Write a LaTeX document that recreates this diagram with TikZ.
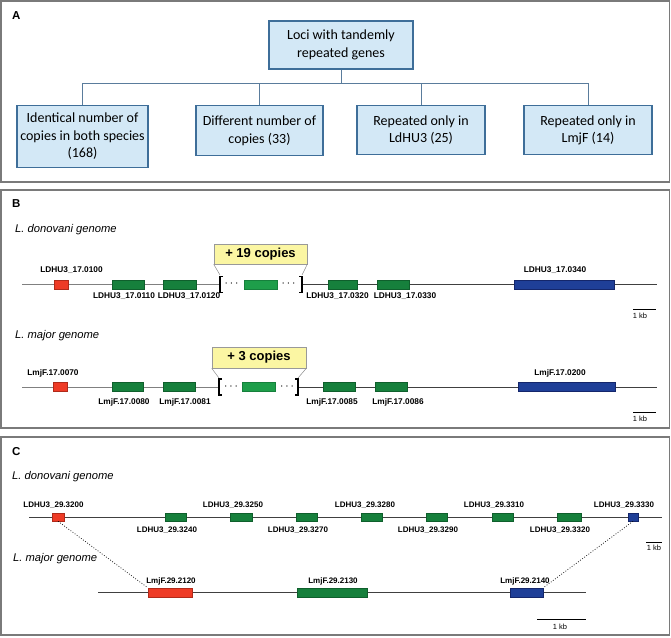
\documentclass[tikz,border=0pt]{standalone}
\usepackage{fontspec}
\setmainfont{Liberation Sans}
\newfontfamily\calfont{Carlito}
\usepackage{tikz}
\usetikzlibrary{positioning}
\definecolor{boxfill}{HTML}{D3E8F6}
\definecolor{boxline}{HTML}{3E6E99}
\definecolor{treeline}{HTML}{5A7C9C}
\definecolor{framegray}{HTML}{7A7A7A}
\definecolor{gred}{HTML}{EE3B26}
\definecolor{gredd}{HTML}{B02A1A}
\definecolor{ggreen}{HTML}{16803C}
\definecolor{ggreend}{HTML}{0F5F2C}
\definecolor{glight}{HTML}{1E9E4A}
\definecolor{gblue}{HTML}{1F3F98}
\definecolor{gblued}{HTML}{14266B}
\definecolor{copyfill}{HTML}{FBF6A3}

\begin{document}
\begin{tikzpicture}[x=1pt,y=-1pt]
\tikzstyle{frame}=[draw=framegray,line width=1.3pt]
\tikzstyle{box}=[rectangle,draw=boxline,fill=boxfill,line width=1.2pt,align=center,inner sep=0pt,font=\calfont\fontsize{14}{17.5}\selectfont]
\tikzstyle{tree}=[draw=treeline,line width=0.9pt]
\tikzstyle{panel}=[font=\fontsize{11.5}{12}\selectfont\bfseries,anchor=west,inner sep=0pt]
\tikzstyle{genome}=[font=\fontsize{11.2}{12}\selectfont\itshape,anchor=west,inner sep=0pt]
\tikzstyle{gene}=[rectangle,inner sep=0pt,minimum height=9pt,line width=0.6pt]
\tikzstyle{red}=[gene,fill=gred,draw=gredd]
\tikzstyle{green}=[gene,fill=ggreen,draw=ggreend]
\tikzstyle{lgreen}=[gene,fill=glight,draw=ggreen]
\tikzstyle{blue}=[gene,fill=gblue,draw=gblued]
\tikzstyle{lab}=[font=\fontsize{8.3}{10}\selectfont\bfseries,inner sep=0pt]
\tikzstyle{labc}=[font=\fontsize{8}{9}\selectfont\bfseries,inner sep=0pt]
\tikzstyle{dots}=[font=\fontsize{13}{13}\selectfont,inner sep=0pt]
\tikzstyle{chrom}=[draw=black!75,line width=0.8pt]
\tikzstyle{chromg}=[draw=black!50,line width=0.8pt]
\tikzstyle{brk}=[line width=1.6pt]
\tikzstyle{copies}=[rectangle,draw=black!40,fill=copyfill,line width=0.6pt,inner sep=0pt,font=\fontsize{13}{14}\selectfont\bfseries]
\tikzstyle{kb}=[font=\fontsize{7.5}{8}\selectfont,inner sep=0pt]
\useasboundingbox (0,0) rectangle (671,637);

% panel frames
\draw[frame] (1,1) rectangle (669.5,182);
\draw[frame] (1,190) rectangle (669.5,428);
\draw[frame] (1,437) rectangle (669.5,635);

% A: tree of loci
\node[panel] (pa) at (12,16) {A};
\node[box,minimum width=144pt,minimum height=48pt] (loci) at (341,45) {Loci with tandemly\\repeated genes};
\node[box,anchor=north,minimum width=131pt,minimum height=62pt] (ident) at (82.5,105) {Identical number of\\copies in both species\\(168)};
\node[box,anchor=north,minimum width=127pt,minimum height=50pt] (diff) at (259.5,105) {Different number of\\copies (33)};
\node[box,anchor=north,minimum width=128pt,minimum height=49pt] (onlyld) at (421,105) {Repeated only in\\LdHU3 (25)};
\node[box,anchor=north,minimum width=128pt,minimum height=49pt] (onlylm) at (588,105) {Repeated only in\\LmjF (14)};
\coordinate (hub) at (341,83);
\draw[tree] (loci) -- (hub);
\foreach \c in {ident,diff,onlyld,onlylm}
  \draw[tree] (hub) -| (\c.north);

% B: chromosome 17
\node[panel] (pb) at (12,204) {B};
\node[genome] (gdon) at (15,230) {L. donovani genome};
\coordinate (ldS) at (22,284.5);
\coordinate (ldL) at (220,284.5);
\coordinate (ldR) at (302,284.5);
\coordinate (ldE) at (657,284.5);
\draw[chromg] (ldS) -- (ldL);
\draw[chrom] (ldR) -- (ldE);
\draw[brk] (ldL) ++(3,-8) -- ++(-3,0) -- ++(0,16) -- ++(3,0);
\draw[brk] (ldR) ++(-3,-8) -- ++(3,0) -- ++(0,16) -- ++(-3,0);
\node[red,minimum width=14pt] (ld0100) at (61,284.5) {};
\node[green,minimum width=32pt] (ld0110) at (128,284.5) {};
\node[green,minimum width=33pt] (ld0120) at (179.5,284.5) {};
\node[lgreen,minimum width=33pt] (ldrep) at (260.5,284.5) {};
\node[green,minimum width=29pt] (ld0320) at (342.5,284.5) {};
\node[green,minimum width=32pt] (ld0330) at (393,284.5) {};
\node[blue,minimum width=100pt] (ld0340) at (564,284.5) {};
\node[dots] at (231.5,284) {$\cdots$};
\node[dots] at (288.5,284) {$\cdots$};
\node[lab] at (71.5,270) {LDHU3\_17.0100};
\node[lab] at (124,296) {LDHU3\_17.0110};
\node[lab] at (189,296) {LDHU3\_17.0120};
\node[lab] at (337.5,296) {LDHU3\_17.0320};
\node[lab] at (405,296) {LDHU3\_17.0330};
\node[lab] at (555,270) {LDHU3\_17.0340};
\node[copies,minimum width=93pt,minimum height=20pt] (cp19) at (260.5,254) {+ 19 copies};
\coordinate (ldLt) at (220,275);
\coordinate (ldRt) at (302,275);
\draw[black!45,line width=0.5pt] (cp19.south west) -- (ldLt);
\draw[black!45,line width=0.5pt] (cp19.south east) -- (ldRt);
\coordinate (kbBa) at (633,309);
\coordinate (kbBb) at (656,309);
\draw[line width=0.6pt] (kbBa) -- (kbBb);
\node[kb] at (640,315.5) {1 kb};

\node[genome] (gmaj) at (15,336) {L. major genome};
\coordinate (lmS) at (22,387);
\coordinate (lmL) at (219,387);
\coordinate (lmR) at (298,387);
\coordinate (lmE) at (657,387);
\draw[chromg] (lmS) -- (lmL);
\draw[chrom] (lmR) -- (lmE);
\draw[brk] (lmL) ++(3,-8) -- ++(-3,0) -- ++(0,16) -- ++(3,0);
\draw[brk] (lmR) ++(-3,-8) -- ++(3,0) -- ++(0,16) -- ++(-3,0);
\node[red,minimum width=14pt] (lm0070) at (60,387) {};
\node[green,minimum width=31pt] (lm0080) at (127.5,387) {};
\node[green,minimum width=32pt] (lm0081) at (179,387) {};
\node[lgreen,minimum width=33pt] (lmrep) at (258.5,387) {};
\node[green,minimum width=32pt] (lm0085) at (339,387) {};
\node[green,minimum width=32pt] (lm0086) at (391,387) {};
\node[blue,minimum width=97pt] (lm0200) at (566.5,387) {};
\node[dots] at (231,386.5) {$\cdots$};
\node[dots] at (287,386.5) {$\cdots$};
\node[lab] at (53,373) {LmjF.17.0070};
\node[lab] at (124,402) {LmjF.17.0080};
\node[lab] at (185,402) {LmjF.17.0081};
\node[lab] at (332,402) {LmjF.17.0085};
\node[lab] at (398,402) {LmjF.17.0086};
\node[lab] at (560,373) {LmjF.17.0200};
\node[copies,minimum width=94pt,minimum height=21pt] (cp3) at (259,357.5) {+ 3 copies};
\coordinate (lmLt) at (219,378);
\coordinate (lmRt) at (298,378);
\draw[black!45,line width=0.5pt] (cp3.south west) -- (lmLt);
\draw[black!45,line width=0.5pt] (cp3.south east) -- (lmRt);
\coordinate (kbMa) at (633,412);
\coordinate (kbMb) at (656,412);
\draw[line width=0.6pt] (kbMa) -- (kbMb);
\node[kb] at (640,418.5) {1 kb};

% C: chromosome 29
\node[panel] (pc) at (12,452) {C};
\node[genome] (gdon2) at (12,477) {L. donovani genome};
\coordinate (cdS) at (29,517);
\coordinate (cdE) at (662,517);
\draw[chrom] (cdS) -- (cdE);
\node[red,minimum width=12pt,minimum height=8pt] (c3200) at (58,517) {};
\node[green,minimum width=21pt,minimum height=8pt] (c3240) at (175.5,517) {};
\node[green,minimum width=22pt,minimum height=8pt] (c3250) at (241,517) {};
\node[green,minimum width=21pt,minimum height=8pt] (c3270) at (306.5,517) {};
\node[green,minimum width=21pt,minimum height=8pt] (c3280) at (371.5,517) {};
\node[green,minimum width=21pt,minimum height=8pt] (c3290) at (436.5,517) {};
\node[green,minimum width=21pt,minimum height=8pt] (c3310) at (502.5,517) {};
\node[green,minimum width=24pt,minimum height=8pt] (c3320) at (569,517) {};
\node[blue,minimum width=10pt,minimum height=8pt] (c3330) at (633,517) {};
\node[labc] at (53.5,505) {LDHU3\_29.3200};
\node[labc] at (167,530) {LDHU3\_29.3240};
\node[labc] at (233,505) {LDHU3\_29.3250};
\node[labc] at (298,530) {LDHU3\_29.3270};
\node[labc] at (365,505) {LDHU3\_29.3280};
\node[labc] at (428,530) {LDHU3\_29.3290};
\node[labc] at (494,505) {LDHU3\_29.3310};
\node[labc] at (560,530) {LDHU3\_29.3320};
\node[labc] at (624,505) {LDHU3\_29.3330};
\coordinate (kbCa) at (646,542);
\coordinate (kbCb) at (662,542);
\draw[line width=0.6pt] (kbCa) -- (kbCb);
\node[kb] at (654,548) {1 kb};

\node[genome] (gmaj2) at (13,559) {L. major genome};
\coordinate (cmS) at (98,592.5);
\coordinate (cmE) at (586,592.5);
\draw[chrom] (cmS) -- (cmE);
\node[red,minimum width=44pt] (m2120) at (170,592.5) {};
\node[green,minimum width=70pt] (m2130) at (332,592.5) {};
\node[blue,minimum width=33pt] (m2140) at (526.5,592.5) {};
\node[labc] at (171,581) {LmjF.29.2120};
\node[labc] at (333,581) {LmjF.29.2130};
\node[labc] at (525,581) {LmjF.29.2140};
\draw[line width=0.7pt,dash pattern=on 0.8pt off 1.8pt] (c3200.south) -- (m2120.north west);
\draw[line width=0.7pt,dash pattern=on 0.8pt off 1.8pt] (c3330.south) -- (m2140.north east);
\coordinate (kbDa) at (537,619);
\coordinate (kbDb) at (586,619);
\draw[line width=0.6pt] (kbDa) -- (kbDb);
\node[kb] at (560,627) {1 kb};
\end{tikzpicture}
\end{document}
